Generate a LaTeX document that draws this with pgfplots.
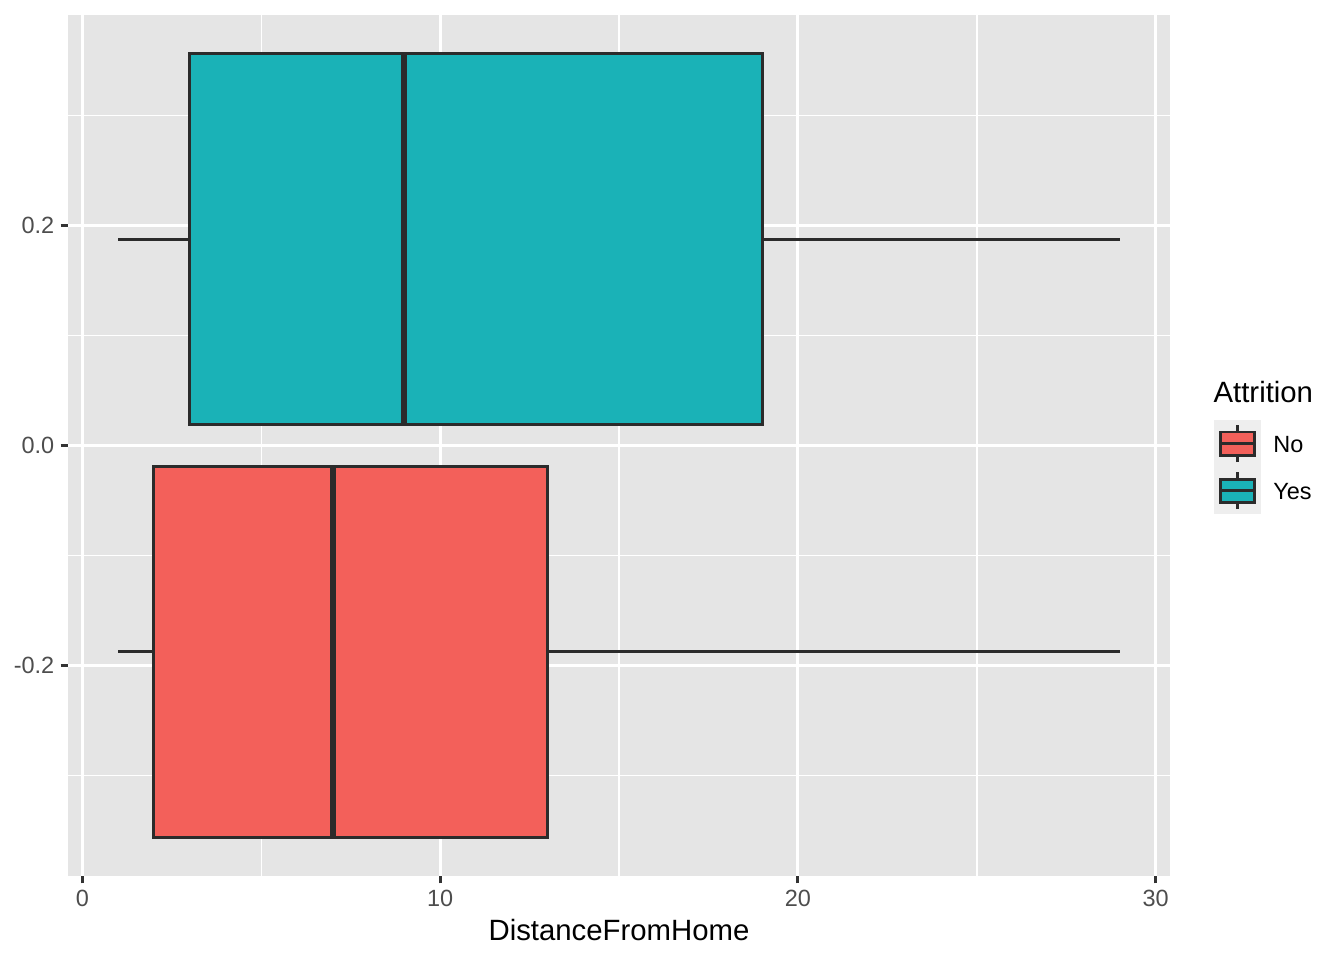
\documentclass[border=0pt]{standalone}
\usepackage{fontspec}
\setmainfont{Liberation Sans}
\usepackage{pgfplots}
\pgfplotsset{compat=1.18}
\usepgfplotslibrary{statistics}
\definecolor{panelbg}{HTML}{E5E5E5}
\definecolor{keybg}{HTML}{EEEEEE}
\definecolor{noFill}{HTML}{F3605A}
\definecolor{yesFill}{HTML}{1AB2B7}
\definecolor{edge}{HTML}{2B2B2B}
\definecolor{ticktext}{HTML}{4D4D4D}
\definecolor{tickcol}{HTML}{333333}
\begin{document}
\begin{tikzpicture}
\useasboundingbox (0,0) rectangle (504pt,360pt);
\begin{axis}[
  at={(25.5pt,31.5pt)}, anchor=south west,
  scale only axis, width=413.25pt, height=322.875pt,
  xmin=-0.4, xmax=30.4, ymin=-0.3915, ymax=0.3915,
  axis background/.style={fill=panelbg},
  axis line style={draw=none},
  xtick={0,10,20,30}, xticklabels={0,10,20,30},
  ytick={-0.2,0,0.2}, yticklabels={-0.2,0.0,0.2},
  minor xtick={5,15,25}, minor ytick={-0.3,-0.1,0.1,0.3},
  xtick pos=lower, ytick pos=left,
  tick align=outside, major tick length=2.75pt, minor tick length=0pt,
  major tick style={tickcol, line width=1.07pt},
  grid=both,
  major grid style={white, line width=1.07pt},
  minor grid style={white, line width=0.53pt},
  ticklabel style={font=\fontsize{8.8}{10}\selectfont, text=ticktext, inner sep=0pt},
  xticklabel style={yshift=-2.2pt},
  yticklabel style={xshift=-2.2pt},
  xlabel={DistanceFromHome},
  xlabel style={font=\fontsize{11}{13}\selectfont, at={(axis description cs:0.5,0)}, anchor=base, yshift=-24.2pt, inner sep=0pt},
  boxplot/draw direction=x,
  boxplot/every median/.style={line width=2.13pt},
  legend cell align=left,
  legend style={at={(axis description cs:1,0.5)}, anchor=north west, xshift=16.5pt, yshift=9.56pt,
    draw=none, fill=none, inner sep=0pt, outer sep=0pt, row sep=0pt, column sep=2.6pt,
    font=\fontsize{8.8}{10}\selectfont, nodes={yshift=-0.9pt}},
]
\addplot[forget plot, fill=yesFill, draw=edge, line width=1.07pt,
  boxplot prepared={lower whisker=1, lower quartile=3, median=9, upper quartile=19, upper whisker=29,
    draw position=0.1875, box extend=0.3375, whisker extend=0}] coordinates {};
\addplot[forget plot, fill=noFill, draw=edge, line width=1.07pt,
  boxplot prepared={lower whisker=1, lower quartile=2, median=7, upper quartile=13, upper whisker=29,
    draw position=-0.1875, box extend=0.3375, whisker extend=0}] coordinates {};
\addlegendimage{legend image code/.code={
  \fill[keybg] (0pt,-8.64pt) rectangle (17.28pt,8.64pt);
  \draw[edge, line width=1.07pt] (8.64pt,-6.91pt) -- (8.64pt,6.91pt);
  \filldraw[fill=noFill, draw=edge, line width=1.07pt] (2.16pt,-4.32pt) rectangle (15.12pt,4.32pt);
  \draw[edge, line width=1.07pt] (2.16pt,0pt) -- (15.12pt,0pt);
}}
\addlegendentry{No}
\addlegendimage{legend image code/.code={
  \fill[keybg] (0pt,-8.64pt) rectangle (17.28pt,8.64pt);
  \draw[edge, line width=1.07pt] (8.64pt,-6.91pt) -- (8.64pt,6.91pt);
  \filldraw[fill=yesFill, draw=edge, line width=1.07pt] (2.16pt,-4.32pt) rectangle (15.12pt,4.32pt);
  \draw[edge, line width=1.07pt] (2.16pt,0pt) -- (15.12pt,0pt);
}}
\addlegendentry{Yes}
\end{axis}
\node[anchor=base west, inner sep=0pt, font=\fontsize{11}{13}\selectfont] at (454.9pt,208.9pt) {Attrition};
\end{tikzpicture}
\end{document}
